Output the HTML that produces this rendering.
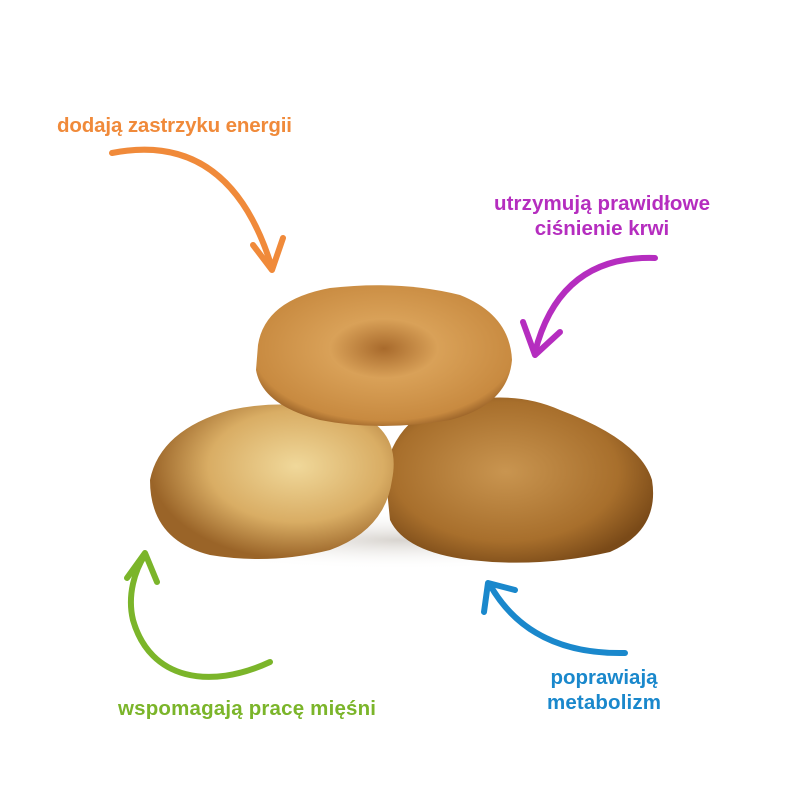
<!DOCTYPE html>
<html><head><meta charset="utf-8"><style>
html,body{margin:0;padding:0;background:#fff}
svg{display:block}
text{font-family:"Liberation Sans",sans-serif;font-weight:bold;font-size:20.5px}
</style></head><body>
<svg width="800" height="800" viewBox="0 0 800 800" xmlns="http://www.w3.org/2000/svg">
<defs>
<radialGradient id="gr" cx="0.45" cy="0.45" r="0.6"><stop offset="0" stop-color="#c99550"/><stop offset="0.7" stop-color="#a86f2c"/><stop offset="1" stop-color="#7a4a18"/></radialGradient>
<radialGradient id="gl" cx="0.6" cy="0.4" r="0.6"><stop offset="0" stop-color="#f0d89a"/><stop offset="0.6" stop-color="#d9ad64"/><stop offset="1" stop-color="#9a6428"/></radialGradient>
<radialGradient id="gt" cx="0.5" cy="0.45" r="0.6"><stop offset="0" stop-color="#a86a2c"/><stop offset="0.35" stop-color="#d9a158"/><stop offset="0.85" stop-color="#c88a40"/><stop offset="1" stop-color="#8a5520"/></radialGradient>
<radialGradient id="sh" cx="0.5" cy="0.5" r="0.5"><stop offset="0" stop-color="#d8d4cf"/><stop offset="1" stop-color="#fff" stop-opacity="0"/></radialGradient>
</defs>
<rect width="800" height="800" fill="#fff"/>
<ellipse cx="400" cy="540" rx="250" ry="30" fill="url(#sh)"/>
<path d="M385 470 Q400 405 470 400 Q520 392 560 410 Q640 440 652 480 Q660 530 610 552 Q540 568 470 560 Q405 552 390 520 Z" fill="url(#gr)"/>
<path d="M150 480 Q160 430 230 410 Q300 395 370 420 Q400 440 392 480 Q385 530 330 550 Q270 565 210 555 Q150 540 150 480 Z" fill="url(#gl)"/>
<path d="M258 345 Q265 300 330 288 Q400 280 460 295 Q510 315 512 360 Q508 405 450 420 Q380 432 320 420 Q262 405 256 370 Z" fill="url(#gt)"/>
<text x="57" y="132" fill="#f08a3a" textLength="235">dodają zastrzyku energii</text>
<text x="494" y="210" fill="#b52dbf" textLength="216">utrzymują prawidłowe</text>
<text x="602" y="235" fill="#b52dbf" text-anchor="middle">ciśnienie krwi</text>
<text x="118" y="715" fill="#7bb52a" textLength="258">wspomagają pracę mięśni</text>
<text x="604" y="684" fill="#1a88cc" text-anchor="middle">poprawiają</text>
<text x="547" y="709" fill="#1a88cc" textLength="114">metabolizm</text>
<g fill="none" stroke-width="6" stroke-linecap="round" stroke-linejoin="round">
<path d="M112 153 Q230 130 272 268" stroke="#f08a3a"/>
<path d="M253 245 L272 270 L283 238" stroke="#f08a3a"/>
<path d="M655 258 Q560 255 535 352" stroke="#b52dbf"/>
<path d="M523 322 L535 355 L560 332" stroke="#b52dbf"/>
<path d="M270 662 C210 690 150 680 133 620 C127 595 135 570 145 555" stroke="#7bb52a"/>
<path d="M127 578 L145 553 L157 582" stroke="#7bb52a"/>
<path d="M625 653 Q530 655 490 585" stroke="#1a88cc"/>
<path d="M484 612 L488 583 L515 590" stroke="#1a88cc"/>
</g>
</svg>
</body></html>
